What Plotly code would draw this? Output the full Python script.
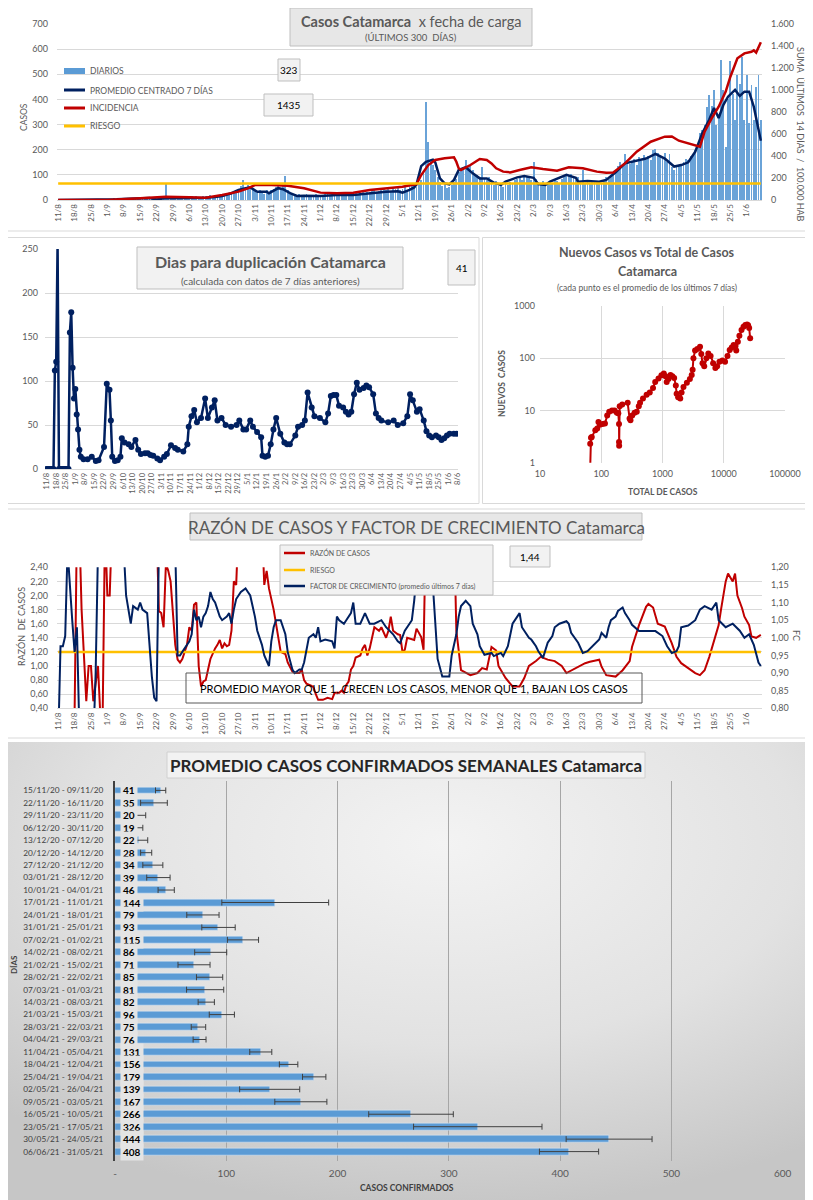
import base64
import pandas as pd
import plotly.graph_objects as go

W, H = 813, 1200
OFF = 8  # page body margin of the browser page
def px(x): return (x - OFF) / W
def py(y): return 1 - (y - OFF) / H

INICIO = pd.Timestamp("2020-08-11")
def fechas(dias):
    return [(INICIO + pd.Timedelta(days=int(d))).strftime("%Y-%m-%d") for d in dias]

AZUL = "#002060"; ROJO = "#c00000"; AMARILLO = "#ffc000"; BARRA = "#5b9bd5"
GRIS = "#595959"; GRID = "#d9d9d9"; FONT = "Lato"

# ---------------- Panel 1: casos diarios ----------------
diarios = [
    0,0,0,0,1,0,0,  0,1,0,0,0,1,0,  0,0,1,0,0,0,2,
    1,3,2,4,2,3,5,  4,6,3,5,7,4,6,  8,5,10,6,9,7,12,
    9,6,11,8,64,10,7,  12,10,14,9,13,11,15,  10,14,12,16,11,13,17,
    15,12,18,14,20,16,13,  20,25,18,28,22,30,35,  42,55,80,48,60,52,40,
    35,28,40,30,25,38,32,  40,45,52,60,48,55,96,  40,32,25,20,18,22,15,
    18,22,20,16,19,24,17,  20,18,25,22,19,24,21,  22,26,20,28,24,30,25,
    28,32,25,35,30,27,33,  30,38,42,28,35,40,45,  38,44,35,50,42,48,40,
    45,52,40,58,55,62,50,  65,80,110,390,232,150,140,  120,90,70,55,60,48,52,
    58,70,85,110,125,120,159,  130,140,120,105,98,90,131,  85,78,92,70,60,75,55,
    62,50,68,58,72,65,80,  85,90,78,100,95,88,80,  152,85,70,62,75,68,72,
    70,65,80,75,68,85,90,  100,95,105,88,80,92,75,  119,68,75,65,72,70,70,
    72,68,80,90,85,100,110,  120,135,150,140,183,160,145,  150,165,140,170,155,180,160,
    175,160,199,204,185,170,165,  187,150,181,130,120,140,135,  140,150,165,160,175,180,199,
    210,265,279,300,371,418,374,  438,300,330,557,438,212,400,  551,420,318,497,460,568,320,
    497,306,458,320,451,497,318,
]
prom_dias = [0,14,21,25,30,35,39,42,46,49,53,58,63,67,70,74,77,80,82,85,89,90,94,96,99,102,105,112,119,126,133,140,145,147,150,152,153,155,157,160,161,163,165,167,169,171,174,177,180,183,186,189,191,196,199,203,205,208,210,215,217,221,222,226,231,234,238,242,247,251,255,259,263,266,269,272,275,278,280,282,284,286,289,291,293,295,297,300]
prom_vals = [0,0,1,3,5,7,8,2,8,7,7,9,9,12,16,27,40,47,50,33,33,27,47,43,27,16,17,16,20,20,27,33,35,29,40,50,62,135,152,160,150,86,66,62,80,119,130,106,86,86,69,60,73,90,95,88,63,60,73,90,100,88,73,76,73,80,110,146,155,165,183,165,133,139,150,192,265,320,366,326,378,411,438,414,431,431,371,236]
inc_dias = [0,21,35,46,56,63,70,77,81,84,91,98,105,112,119,126,133,140,147,153,155,158,161,165,169,170,171,172,176,180,183,185,187,190,193,197,202,207,213,218,224,230,234,237,242,247,253,259,262,265,269,271,274,276,279,282,285,287,289,290,293,296,297,298,300]
inc_vals = [0,1,15,30,25,20,45,76,106,136,136,130,106,67,61,67,91,106,121,145,227,318,364,379,388,348,288,273,318,373,364,333,288,258,251,273,297,282,267,297,288,258,248,250,333,439,530,576,577,539,515,509,485,621,742,848,985,1121,1227,1288,1333,1348,1360,1340,1435]
RIESGO_INC = 150
ULTIMO_DIARIO = 323
ULTIMA_INC = 1435

# ---------------- Panel 2: días para duplicación ----------------
dup_dias = [0,1,2,3,4,5,6,7,8,9,10,11,12,13,14,15,16,17,18,19,20,21,22,23,24,25,27,30,33,36,38,42,44,46,47,48,50,52,54,55,57,60,62,65,67,69,72,74,76,78,81,83,86,88,91,94,96,100,103,104,106,108,110,113,116,118,121,123,125,128,131,135,139,141,144,146,149,151,154,157,158,160,162,164,166,168,171,174,176,178,182,184,187,189,191,194,196,200,204,206,208,210,212,214,217,219,221,223,225,227,229,232,234,236,239,241,243,245,250,254,257,261,264,266,268,271,273,276,278,280,282,285,287,289,291,293,295,298,300]
dup_vals = [0,0,0,0,0,0,112,122,255,0,0,0,0,0,0,0,0,155,178,115,80,91,62,45,22,14,11,11,14,9,10,25,97,90,55,14,9,10,14,35,30,28,25,33,22,17,18,18,16,15,12,10,14,17,27,24,22,20,28,48,60,67,53,58,80,58,70,78,55,58,50,48,50,55,45,45,55,48,42,36,15,14,15,28,45,58,40,30,28,28,38,48,50,55,87,70,60,58,53,63,83,84,84,72,70,65,62,65,85,98,90,92,95,93,85,63,58,55,53,55,50,52,60,85,78,65,68,55,43,38,36,38,36,33,35,38,40,40,40]
ULTIMA_DUP = 41

# ---------------- Panel 3: nuevos vs total ----------------
totales = [64,66,68,70,80,86,90,95,105,115,125,135,150,165,180,190,195,195,196,200,220,270,290,300,320,350,380,410,430,480,550,620,700,760,860,960,1050,1120,1170,1250,1350,1450,1550,1650,1700,1800,1950,2050,2200,2500,2800,3000,3100,3200,3400,3700,4100,4300,4500,4800,5200,5600,6100,6700,7300,7800,8500,9500,10500,11500,12500,13500,14500,15500,16000,17000,18000,19500,21000,22500,24000,25000,26000,27000]
nuevos = [0.2,2.3,3.0,3.1,4.2,4.5,6.0,5.3,5.5,5.6,8,9.5,10,10,9,8.8,5.5,2.5,2.1,12,13,14,7,6.5,8,9,9.5,12,14,17,20,22,27,35,41,47,51,45,35,40,48,45,42,30,21,18,17,22,28,34,40,48,60,100,140,150,166,120,80,70,100,123,110,80,65,70,86,90,86,110,143,160,180,170,140,207,270,349,400,435,440,430,380,240]

# ---------------- Panel 4: razón de casos y factor de crecimiento ----------------
razon_dias = [0,7,8,9,10,11,12,13,14,15,17,18,19,20,21,22,23,42,43,44,45,46,47,48,49,50,51,52,53,55,56,57,58,59,60,61,62,63,64,65,67,68,69,70,71,72,73,74,75,76,77,87,88,89,90,92,93,94,95,97,98,100,101,103,104,105,106,108,109,110,111,113,115,117,118,120,121,122,123,124,125,126,127,129,130,131,132,133,134,135,137,138,140,141,142,143,145,146,147,148,149,150,152,153,155,156,157,169,170,172,174,176,179,181,183,185,187,188,191,194,197,199,201,204,206,209,212,215,217,221,225,227,231,232,234,238,241,244,245,248,251,252,254,256,259,262,264,266,270,272,274,276,278,280,282,283,285,286,288,289,290,292,293,295,296,298,300]
razon_vals = [0.2,0.3,3.0,3.0,1.8,1.2,0.5,1.0,1.0,0.5,1.0,0.3,0.3,3.0,2.0,2.0,3.0,3.0,1.78,1.75,1.55,2.45,2.35,2.2,1.8,1.3,1.09,1.05,1.1,1.3,1.55,1.5,1.87,1.9,1.0,0.71,0.78,0.8,0.95,1.1,1.25,1.3,1.37,1.25,1.32,1.28,1.3,1.5,2.2,2.15,3.0,3.0,2.15,2.35,2.1,1.8,1.6,1.4,1.2,1.17,1.05,0.92,0.9,0.9,0.95,0.8,0.75,0.72,0.7,0.6,0.52,0.52,0.55,0.53,0.62,0.62,0.65,0.62,0.73,0.78,0.95,1.0,1.12,1.15,1.25,1.3,1.15,1.25,1.4,1.55,1.5,1.55,1.4,1.5,1.7,1.5,1.45,1.44,1.2,1.23,1.4,1.39,1.37,1.53,1.41,1.23,3.0,3.0,1.5,0.94,0.9,0.87,0.9,0.97,0.95,1.27,1.22,1.0,0.83,0.71,0.71,0.83,1.0,1.07,1.13,1.09,1.07,1.0,0.9,0.97,1.04,1.06,1.09,0.99,0.87,0.85,0.94,1.07,1.27,1.58,1.84,1.88,1.83,1.6,1.56,1.32,1.13,1.04,0.94,0.9,0.87,0.94,1.13,1.37,1.58,1.8,2.2,2.31,2.2,2.31,2.0,1.82,1.7,1.58,1.42,1.4,1.44]
fc_dias = [0,1,2,3,4,5,6,7,8,9,10,15,16,17,28,29,30,31,32,34,35,36,38,39,40,41,42,43,50,51,52,53,55,56,57,58,59,60,61,62,63,64,65,66,67,68,69,70,72,73,74,75,76,78,80,81,82,83,84,85,86,87,88,90,91,92,93,95,97,98,100,101,103,104,105,107,109,110,111,112,114,117,118,119,120,122,123,125,126,127,129,131,133,135,138,140,143,145,146,148,150,151,152,153,154,159,160,161,162,164,167,168,170,171,172,174,176,177,179,180,182,185,186,189,190,192,193,194,197,198,201,202,204,205,207,208,209,211,212,214,217,218,219,222,224,226,228,231,232,234,235,236,238,239,241,242,244,245,248,252,255,258,260,262,264,265,266,269,272,274,276,279,281,282,285,288,291,293,295,297,299,300]
fc_vals = [0.7,0.976,0.976,1.005,1.25,1.14,1.05,0.96,1.03,0.75,0.7,0.7,0.9,1.25,1.25,1.12,1.08,1.04,1.09,1.08,1.1,1.08,1.07,0.97,0.89,0.83,0.82,1.25,1.25,0.95,0.95,0.96,0.98,0.99,1.01,1.08,1.05,1.06,1.03,1.06,1.07,1.09,1.13,1.11,1.1,1.08,1.06,1.05,1.06,1.07,1.04,1.08,1.11,1.13,1.14,1.13,1.12,1.09,1.06,1.02,1.0,0.98,0.95,0.92,0.99,1.03,1.05,1.05,1.01,0.96,0.91,0.9,0.91,0.91,0.93,1.0,1.01,1.0,1.03,0.99,0.995,0.99,0.97,1.06,1.05,1.04,1.05,1.07,1.1,1.04,1.04,1.07,1.04,1.04,1.05,1.03,1.01,0.99,0.985,1.02,1.04,1.05,1.105,1.16,1.25,1.25,1.14,1.03,0.94,0.89,0.89,0.95,1.01,1.06,1.09,1.105,1.09,1.04,1.01,0.976,0.952,0.957,0.948,0.957,0.948,0.976,1.01,1.04,1.07,1.03,1.0,0.995,0.976,0.962,0.943,0.962,0.986,1.005,1.03,1.04,1.047,1.04,1.014,0.986,0.957,0.962,0.976,0.995,1.014,1.0,1.03,1.05,1.06,1.076,1.086,1.07,1.05,1.037,1.019,1.02,1.019,1.005,0.976,0.957,0.962,0.976,1.03,1.035,1.05,1.08,1.09,1.08,1.10,1.05,1.03,1.04,1.02,1.0,1.01,0.98,0.93,0.92]
RIESGO_RAZON = 1.2
ULTIMA_RAZON = "1,44"

# ---------------- Panel 5: promedio semanal ----------------
semanas = ["15/11/20 - 09/11/20","22/11/20 - 16/11/20","29/11/20 - 23/11/20","06/12/20 - 30/11/20",
           "13/12/20 - 07/12/20","20/12/20 - 14/12/20","27/12/20 - 21/12/20","03/01/21 - 28/12/20",
           "10/01/21 - 04/01/21","17/01/21 - 11/01/21","24/01/21 - 18/01/21","31/01/21 - 25/01/21",
           "07/02/21 - 01/02/21","14/02/21 - 08/02/21","21/02/21 - 15/02/21","28/02/21 - 22/02/21",
           "07/03/21 - 01/03/21","14/03/21 - 08/03/21","21/03/21 - 15/03/21","28/03/21 - 22/03/21",
           "04/04/21 - 29/03/21","11/04/21 - 05/04/21","18/04/21 - 12/04/21","25/04/21 - 19/04/21",
           "02/05/21 - 26/04/21","09/05/21 - 03/05/21","16/05/21 - 10/05/21","23/05/21 - 17/05/21",
           "30/05/21 - 24/05/21","06/06/21 - 31/05/21"]
promedio_semanal = [41,35,20,19,22,28,34,39,46,144,79,93,115,86,71,85,81,82,96,75,76,131,156,179,139,167,266,326,444,408]
desvio_semanal = [4.6,12,7.6,6,7.4,5,9,10.5,7.3,48,14.5,15,14,14.4,14.4,11.8,16.7,7.3,11.3,6.5,5.8,9.9,8.3,10.5,27,23.4,38,57.7,38.6,26.6]

# ======================================================================
fig = go.Figure()
dias_all = list(range(len(diarios)))

fig.add_trace(go.Bar(x=fechas(dias_all), y=diarios, xaxis="x", yaxis="y", marker_color="#6aa3d8",
                     marker_line_width=0, width=0.38 * 86400000, name="DIARIOS"))
fig.add_trace(go.Scatter(x=fechas(prom_dias), y=prom_vals, xaxis="x", yaxis="y", mode="lines",
                         line=dict(color=AZUL, width=2.5), name="PROMEDIO"))
fig.add_trace(go.Scatter(x=fechas(inc_dias), y=inc_vals, xaxis="x", yaxis="y2", mode="lines",
                         line=dict(color=ROJO, width=2.5), name="INCIDENCIA"))
fig.add_trace(go.Scatter(x=fechas(dias_all), y=[RIESGO_INC] * len(dias_all), xaxis="x", yaxis="y2",
                         mode="lines", line=dict(color=AMARILLO, width=2.5), name="RIESGO"))

fig.add_trace(go.Scatter(x=fechas(dup_dias), y=dup_vals, xaxis="x2", yaxis="y3", mode="lines+markers",
                         line=dict(color=AZUL, width=2.5), marker=dict(color=AZUL, size=6)))

fig.add_trace(go.Scatter(x=totales, y=nuevos, xaxis="x3", yaxis="y4", mode="lines+markers",
                         line=dict(color=ROJO, width=2), marker=dict(color=ROJO, size=6)))

fig.add_trace(go.Scatter(x=fechas(razon_dias), y=razon_vals, xaxis="x4", yaxis="y5", mode="lines",
                         line=dict(color=ROJO, width=2)))
fig.add_trace(go.Scatter(x=fechas(dias_all), y=[RIESGO_RAZON] * len(dias_all), xaxis="x4", yaxis="y5",
                         mode="lines", line=dict(color=AMARILLO, width=2.5)))
fig.add_trace(go.Scatter(x=fechas(fc_dias), y=fc_vals, xaxis="x4", yaxis="y6", mode="lines",
                         line=dict(color=AZUL, width=2)))

fig.add_trace(go.Bar(x=promedio_semanal, y=semanas, orientation="h", xaxis="x5", yaxis="y7",
                     marker_color=BARRA, width=0.55,
                     error_x=dict(type="data", array=desvio_semanal, color="#404040", thickness=1, width=3)))

# ---------------- axes ----------------
rng_fecha = [(INICIO - pd.Timedelta(hours=12)).strftime("%Y-%m-%d %H:%M"),
             (INICIO + pd.Timedelta(days=300, hours=12)).strftime("%Y-%m-%d %H:%M")]
rng_fecha2 = [(INICIO - pd.Timedelta(hours=29)).strftime("%Y-%m-%d %H:%M"),
              (INICIO + pd.Timedelta(days=301, hours=2)).strftime("%Y-%m-%d %H:%M")]
date_common = dict(type="date", tick0=INICIO.strftime("%Y-%m-%d"), dtick=7 * 86400000, tickformat="%-d/%-m",
                   tickangle=-90, showgrid=False, showline=True, linecolor=GRID, ticks="", zeroline=False,
                   automargin=False)
tf = lambda s: dict(family=FONT, size=s, color=GRIS)

layout = dict(
    width=W, height=H, margin=dict(l=0, r=0, t=0, b=0, pad=0, autoexpand=False), showlegend=False,
    paper_bgcolor="white", plot_bgcolor="rgba(0,0,0,0)", separators=",.",
    font=dict(family=FONT, color=GRIS), bargap=0,
    xaxis=dict(domain=[px(57), px(762)], anchor="y", range=rng_fecha, tickfont=tf(8), **date_common),
    yaxis=dict(domain=[py(200), py(24)], anchor="x", range=[0, 700], dtick=100, gridcolor=GRID,
               zeroline=False, tickfont=tf(9), ticklabelstandoff=8, automargin=False),
    yaxis2=dict(overlaying="y", side="right", anchor="x", range=[0, 1600],
                tickvals=[0, 200, 400, 600, 800, 1000, 1200, 1400, 1600],
                ticktext=["0", "200", "400", "600", "800", "1.000", "1.200", "1.400", "1.600"],
                showgrid=False, zeroline=False, tickfont=tf(9), ticklabelstandoff=8, automargin=False),
    xaxis2=dict(domain=[px(45), px(458)], anchor="y3", range=rng_fecha2, tickfont=tf(7.5), **date_common),
    yaxis3=dict(domain=[py(469), py(249)], anchor="x2", range=[0, 250], dtick=50, gridcolor=GRID,
                zeroline=False, tickfont=tf(9), ticklabelstandoff=6, automargin=False),
    xaxis3=dict(domain=[px(540), px(785)], anchor="y4", type="log", range=[1, 5],
                tickvals=[10, 100, 1000, 10000, 100000], ticktext=["10", "100", "1000", "10000", "100000"],
                gridcolor=GRID, showline=False, zeroline=False, tickfont=tf(9), ticklabelstandoff=4,
                automargin=False),
    yaxis4=dict(domain=[py(462.7), py(306)], anchor="x3", type="log", range=[0, 3],
                tickvals=[1, 10, 100, 1000], ticktext=["1", "10", "100", "1000"],
                gridcolor=GRID, zeroline=False, tickfont=tf(9), ticklabelstandoff=4, automargin=False),
    xaxis4=dict(domain=[px(57), px(762)], anchor="y5", range=rng_fecha, tickfont=tf(8), **date_common),
    yaxis5=dict(domain=[py(708.3), py(567.3)], anchor="x4", range=[0.4, 2.4], dtick=0.2, tick0=0.4,
                tickformat=".2f", gridcolor=GRID, zeroline=False, tickfont=tf(9), ticklabelstandoff=8,
                automargin=False),
    yaxis6=dict(overlaying="y5", side="right", anchor="x4", range=[0.8, 1.2], dtick=0.05, tick0=0.8,
                tickformat=".2f", showgrid=False, zeroline=False, tickfont=tf(9), ticklabelstandoff=8,
                automargin=False),
    xaxis5=dict(domain=[px(115), px(782.7)], anchor="y7", range=[0, 600],
                tickvals=[0, 100, 200, 300, 400, 500, 600], ticktext=["-", "100", "200", "300", "400", "500", "600"],
                showgrid=True, gridcolor="#a6a6a6", zeroline=False, showline=False, tickfont=tf(10),
                ticklabelstandoff=5, automargin=False),
    yaxis7=dict(domain=[py(1160.6), py(781.4)], anchor="x5", type="category", categoryorder="array",
                categoryarray=semanas, autorange="reversed", showline=True, linecolor="#404040",
                linewidth=2, showgrid=False, ticks="", tickfont=dict(family=FONT, size=8.3, color="#404040"),
                ticklabelstandoff=8, automargin=False),
)

shapes = []
annotations = []

def box(x0, y0, x1, y1, fill="rgba(0,0,0,0)", line=GRID, width=1, layer="above"):
    shapes.append(dict(type="rect", xref="paper", yref="paper", x0=px(x0), x1=px(x1), y0=py(y1), y1=py(y0),
                       fillcolor=fill, line=dict(color=line, width=width), layer=layer))

def seg(x0, x1, y, color, width):
    shapes.append(dict(type="line", xref="paper", yref="paper", x0=px(x0), x1=px(x1), y0=py(y), y1=py(y),
                       line=dict(color=color, width=width), layer="above"))

def txt(x, y, text, size, color=GRIS, xanchor="center", angle=0, **kw):
    annotations.append(dict(x=px(x), y=py(y), xref="paper", yref="paper", text=text, showarrow=False,
                            xanchor=xanchor, yanchor="middle", textangle=angle,
                            font=dict(family=FONT, size=size, color=color), **kw))

# panel borders
box(1, 1, 812, 231, layer="below")
box(2.5, 237.5, 479, 503.5, layer="below")
box(482.5, 237.5, 811.5, 503.5, layer="below")
box(1, 509, 812, 738, layer="below")

# panel 5 gradient background
svg = ("<svg xmlns='http://www.w3.org/2000/svg' width='808' height='458' viewBox='0 0 808 458' "
       "preserveAspectRatio='none'><defs><radialGradient id='g' cx='55%' cy='22%' r='80%'>"
       "<stop offset='0%' stop-color='#f3f3f3'/><stop offset='55%' stop-color='#e2e2e2'/>"
       "<stop offset='100%' stop-color='#c6c6c6'/></radialGradient></defs>"
       "<rect width='808' height='458' fill='url(#g)'/></svg>")
layout["images"] = [dict(source="data:image/svg+xml;base64," + base64.b64encode(svg.encode()).decode(),
                         xref="paper", yref="paper", x=px(0), y=py(742), sizex=808 / W, sizey=458 / H,
                         xanchor="left", yanchor="top", sizing="stretch", layer="below")]

# ---- panel 1 decorations
box(290, 8, 532, 46, fill="#e7e7e7", line="#bfbfbf")
txt(411, 21, "<b>Casos Catamarca</b>  x fecha de carga", 14.5)
txt(411, 37, "(ÚLTIMOS 300  DÍAS)", 9.5)
box(278, 59, 300, 81, fill="#f2f2f2", line="#bfbfbf")
txt(289, 70, str(ULTIMO_DIARIO), 10, color="#000000")
box(264, 94, 313, 116, fill="#f2f2f2", line="#bfbfbf")
txt(288.5, 105, str(ULTIMA_INC), 10, color="#000000")
shapes.append(dict(type="rect", xref="paper", yref="paper", x0=px(64), x1=px(85), y0=py(74), y1=py(68),
                   fillcolor=BARRA, line=dict(width=0), layer="above"))
seg(64, 85, 90, AZUL, 3)
seg(64, 85, 108, ROJO, 3)
seg(64, 85, 126, AMARILLO, 3)
txt(88, 71, "DIARIOS", 8.5, xanchor="left")
txt(88, 90, "PROMEDIO CENTRADO 7 DÍAS", 8.5, xanchor="left")
txt(88, 108, "INCIDENCIA", 8.5, xanchor="left")
txt(88, 126, "RIESGO", 8.5, xanchor="left")
txt(24, 117, "CASOS", 8.5, angle=-90)
txt(800, 134, "SUMA  ÚLTIMOS  14 DÍAS  /  100.000 HAB", 9, angle=90)

# ---- panel 2 decorations
box(137, 247, 403, 289, fill="#f2f2f2", line="#bfbfbf")
txt(270, 261.5, "<b>Dias para duplicación Catamarca</b>", 16)
txt(270, 281, "(calculada con datos de 7 días anteriores)", 10)
box(448, 250, 475, 285, fill="#f2f2f2", line="#bfbfbf")
txt(461.5, 268, str(ULTIMA_DUP), 10, color="#000000")

# ---- panel 3 decorations
txt(647, 253, "<b>Nuevos Casos vs Total de Casos</b>", 12.5)
txt(647, 272, "<b>Catamarca</b>", 12.5)
txt(647, 288, "(cada punto es el promedio de los últimos 7 días)", 8.5)
txt(663, 492, "<b>TOTAL DE CASOS</b>", 8.5)
txt(502, 384, "<b>NUEVOS  CASOS</b>", 8.5, angle=-90)

# ---- panel 4 decorations
box(190, 513, 642, 540, fill="#e7e7e7", line="#bfbfbf")
txt(416, 527, "RAZÓN DE CASOS Y FACTOR DE CRECIMIENTO Catamarca", 17)
box(280, 545, 493, 595, fill="#f2f2f2", line="#bfbfbf")
seg(284, 305, 553, ROJO, 2.5)
seg(284, 305, 570, AMARILLO, 2.5)
seg(284, 305, 586, AZUL, 2.5)
txt(308, 553, "RAZÓN DE CASOS", 7, xanchor="left")
txt(308, 570, "RIESGO", 7, xanchor="left")
txt(308, 586, "FACTOR DE CRECIMIENTO (promedio últimos 7 días)", 7, xanchor="left")
box(510, 546, 550, 567, fill="#f2f2f2", line="#bfbfbf")
txt(530, 556.5, ULTIMA_RAZON, 10, color="#000000")
box(186, 673, 642, 703, line="#595959")
txt(414, 688, "PROMEDIO MAYOR QUE 1, CRECEN LOS CASOS, MENOR QUE 1, BAJAN LOS CASOS", 11, color="#000000")
txt(21, 627, "RAZÓN  DE CASOS", 9, angle=-90)
txt(797, 635, "FC", 9, angle=90)

# ---- panel 5 decorations
box(167, 752, 645, 778, fill="#f2f2f2", line="#d0d0d0")
txt(406, 765, "<b>PROMEDIO CASOS CONFIRMADOS SEMANALES Catamarca</b>", 17, color="#262626")
txt(14, 965, "<b>DÍAS</b>", 8, color="#404040", angle=-90)
txt(407, 1188, "<b>CASOS CONFIRMADOS</b>", 8.5, color="#404040")
for s, v in zip(semanas, promedio_semanal):
    annotations.append(dict(x=px(120), y=s, xref="paper", yref="y7", text=f"<b>{v}</b>", showarrow=False,
                            xanchor="left", yanchor="middle", bgcolor="#e4e4e4", borderpad=2,
                            font=dict(family=FONT, size=10, color="#000000")))

layout["shapes"] = shapes
layout["annotations"] = annotations
fig.update_layout(**layout)
fig.write_html("out.html")
